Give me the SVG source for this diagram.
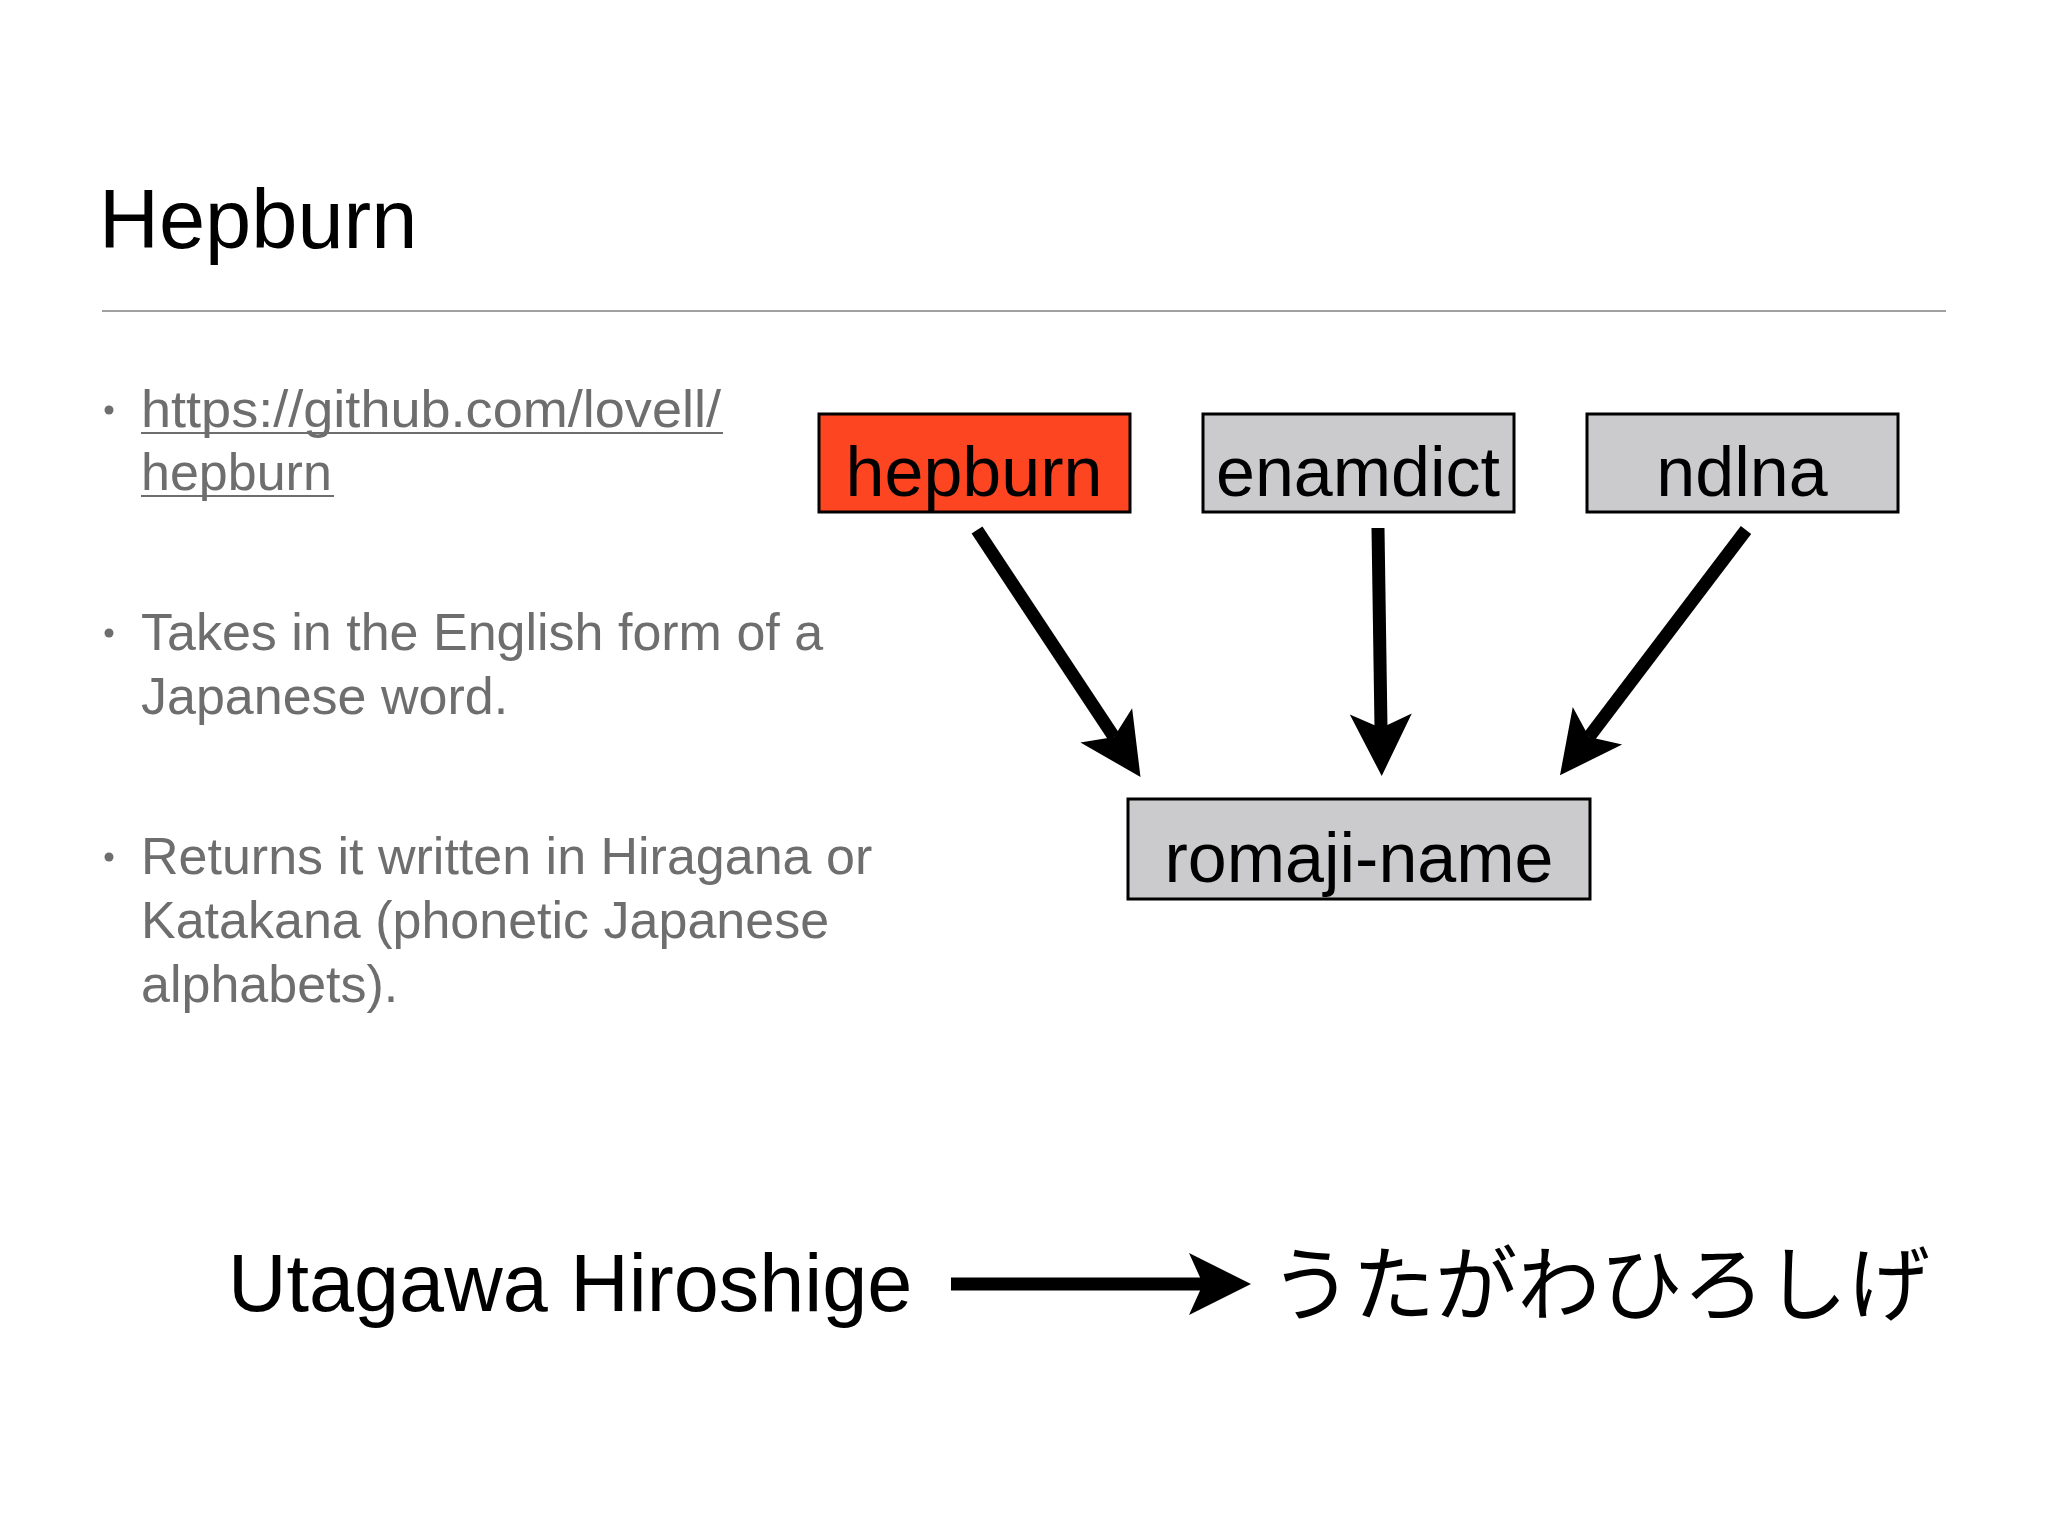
<svg xmlns="http://www.w3.org/2000/svg" width="2048" height="1536" viewBox="0 0 2048 1536">
<style>
.title{font-family:"Liberation Sans",Arial,sans-serif;font-size:83px;fill:#000}
.bul{font-family:"Liberation Sans",Arial,sans-serif;font-size:52px;fill:#6e6e6e}
.box{stroke:#000;stroke-width:3}
.lbl{font-family:"Liberation Sans",Arial,sans-serif;font-size:70px;fill:#000;text-anchor:middle}
.big{font-family:"Liberation Sans",Arial,sans-serif;font-size:81px;fill:#000}
.jp{font-family:"Noto Sans CJK JP",sans-serif;font-size:82px;fill:#000}
.arr{stroke:#000;stroke-width:13;fill:none;marker-end:url(#ah)}
</style>
<defs>
<marker id="ah" markerUnits="userSpaceOnUse" viewBox="0 -31 62 62" refX="14" refY="0" markerWidth="62" markerHeight="62" orient="auto" overflow="visible">
<path d="M0,-31 L62,0 L0,31 L14,0 Z" fill="#000"/>
</marker>
</defs>
<rect width="2048" height="1536" fill="#fff"/>
<g id="title">
<text class="title" x="99" y="248">Hepburn</text>
<line x1="102" y1="311" x2="1946" y2="311" stroke="#a0a0a0" stroke-width="2"/>
</g>
<g id="bullets">
<circle cx="109" cy="410" r="4.5" fill="#6e6e6e"/>
<text class="bul" x="141" y="427" textLength="580" lengthAdjust="spacingAndGlyphs">https://github.com/lovell/</text>
<line x1="141" y1="433" x2="723" y2="433" stroke="#6e6e6e" stroke-width="2"/>
<text class="bul" x="141" y="490">hepburn</text>
<line x1="141" y1="496" x2="334" y2="496" stroke="#6e6e6e" stroke-width="2"/>
<circle cx="109" cy="633" r="4.5" fill="#6e6e6e"/>
<text class="bul" x="141" y="650">Takes in the English form of a</text>
<text class="bul" x="141" y="714">Japanese word.</text>
<circle cx="109" cy="857" r="4.5" fill="#6e6e6e"/>
<text class="bul" x="141" y="874">Returns it written in Hiragana or</text>
<text class="bul" x="141" y="938">Katakana (phonetic Japanese</text>
<text class="bul" x="141" y="1002">alphabets).</text>
</g>
<g id="node-hepburn">
<rect class="box" x="819" y="414" width="311" height="98" fill="#fd4521"/>
<text class="lbl" x="974" y="496">hepburn</text>
</g>
<g id="node-enamdict">
<rect class="box" x="1203" y="414" width="311" height="98" fill="#cbcacd"/>
<text class="lbl" x="1358" y="496">enamdict</text>
</g>
<g id="node-ndlna">
<rect class="box" x="1587" y="414" width="311" height="98" fill="#cbcacd"/>
<text class="lbl" x="1742" y="496">ndlna</text>
</g>
<g id="node-romaji-name">
<rect class="box" x="1128" y="799" width="462" height="100" fill="#cbcacd"/>
<text class="lbl" x="1359" y="882">romaji-name</text>
</g>
<g id="connectors">
<line class="arr" x1="977" y1="530" x2="1114" y2="737"/>
<line class="arr" x1="1378" y1="528" x2="1381" y2="728"/>
<line class="arr" x1="1746" y1="530" x2="1589" y2="737"/>
<line class="arr" x1="951" y1="1284" x2="1203" y2="1284"/>
</g>
<g id="example">
<text class="big" x="228" y="1311">Utagawa Hiroshige</text>
<text class="jp" x="1270" y="1314" textLength="660" lengthAdjust="spacingAndGlyphs">うたがわひろしげ</text>
</g>
</svg>
